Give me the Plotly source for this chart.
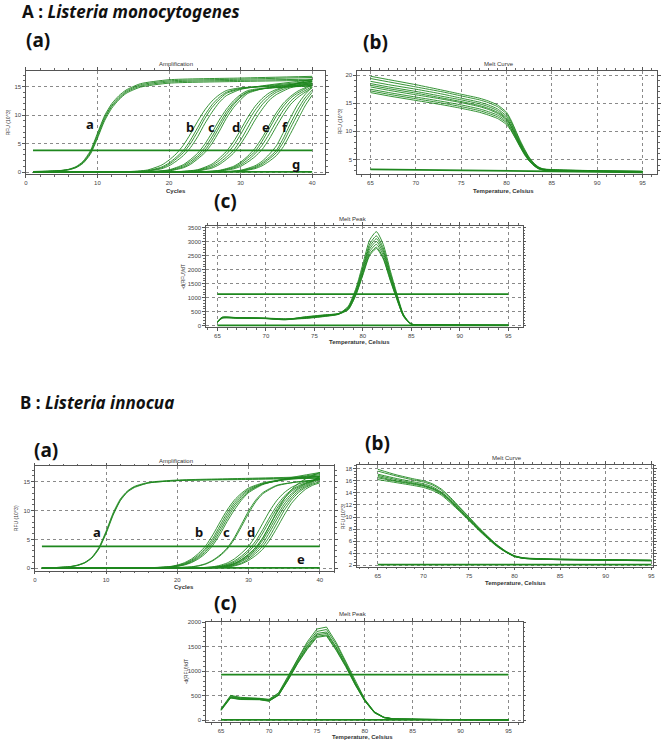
import plotly.graph_objects as go

W, H = 669, 744
GREEN = "rgb(30,135,30)"

# ---------------- A : Listeria monocytogenes ----------------
# amplification (RFU x 10^3 vs cycle)
amp_a_xa = [1, 3, 5, 6, 7, 8, 9, 10, 11, 12, 13, 14, 16, 20, 30, 40]
amp_a_a = [
    [0.10, 0.15, 0.30, 0.50, 0.95, 1.9, 3.7, 6.8, 9.9, 12.0, 13.4, 14.4, 15.5, 16.2, 16.5, 16.8],
    [0.10, 0.15, 0.28, 0.46, 0.88, 1.75, 3.5, 6.5, 9.6, 11.7, 13.1, 14.2, 15.3, 16.0, 16.3, 16.6],
    [0.08, 0.12, 0.26, 0.43, 0.82, 1.65, 3.3, 6.2, 9.3, 11.5, 12.9, 14.0, 15.1, 15.8, 16.1, 16.3],
    [0.08, 0.12, 0.24, 0.40, 0.76, 1.55, 3.1, 5.9, 9.0, 11.2, 12.7, 13.8, 14.9, 15.6, 15.9, 16.1],
]
amp_a_xb = [1, 14, 17, 19, 20, 21, 22, 23, 24, 25, 26, 27, 28, 30, 34, 40]
amp_a_b = [
    [0.05, 0.06, 0.37, 1.25, 2.1, 3.2, 4.7, 6.7, 8.9, 10.9, 12.45, 13.55, 14.3, 14.8, 15.0, 15.3],
    [0.05, 0.05, 0.25, 0.9, 1.6, 2.6, 3.8, 5.6, 7.8, 10.0, 11.8, 13.1, 14.0, 14.7, 15.1, 15.6],
    [0.04, 0.05, 0.2, 0.75, 1.35, 2.3, 3.4, 5.0, 7.1, 9.4, 11.3, 12.7, 13.8, 14.6, 15.2, 15.9],
    [0.04, 0.04, 0.16, 0.6, 1.1, 1.9, 2.9, 4.3, 6.2, 8.5, 10.5, 12.2, 13.4, 14.5, 15.3, 16.2],
]
amp_a_xc = [1, 17, 20, 22, 23, 24, 25, 26, 27, 28, 29, 30, 31, 33, 36, 40]
amp_a_c = [
    [0.05, 0.06, 0.4, 1.3, 2.2, 3.3, 4.9, 6.9, 9.1, 11.0, 12.5, 13.6, 14.3, 14.7, 14.9, 15.1],
    [0.05, 0.05, 0.33, 1.1, 1.9, 2.9, 4.3, 6.2, 8.4, 10.5, 12.1, 13.3, 14.1, 14.6, 14.9, 15.2],
    [0.04, 0.05, 0.25, 0.9, 1.6, 2.6, 3.8, 5.6, 7.8, 10.0, 11.8, 13.1, 14.0, 14.6, 15.0, 15.5],
    [0.04, 0.04, 0.2, 0.75, 1.35, 2.3, 3.4, 5.0, 7.1, 9.4, 11.3, 12.7, 13.8, 14.6, 15.2, 15.9],
]
amp_a_xd = [1, 21, 24, 26, 27, 28, 29, 30, 31, 32, 33, 34, 35, 37, 40]
amp_a_d = [
    [0.05, 0.07, 0.42, 1.4, 2.4, 3.6, 5.3, 7.4, 9.6, 11.5, 12.9, 13.9, 14.5, 15.3, 16.3],
    [0.05, 0.06, 0.34, 1.15, 2.0, 3.1, 4.6, 6.6, 8.8, 10.8, 12.4, 13.5, 14.3, 15.2, 16.0],
    [0.04, 0.05, 0.25, 0.9, 1.6, 2.6, 3.8, 5.6, 7.8, 10.0, 11.8, 13.1, 14.0, 15.0, 15.8],
    [0.04, 0.04, 0.2, 0.7, 1.3, 2.2, 3.3, 4.9, 6.9, 9.1, 11.0, 12.6, 13.6, 14.8, 15.5],
]
amp_a_xe = [1, 24, 27, 29, 30, 31, 32, 33, 34, 35, 36, 37, 38, 39, 40]
amp_a_e = [
    [0.04, 0.05, 0.3, 1.0, 1.75, 2.8, 4.15, 6.0, 8.2, 10.4, 12.1, 13.3, 14.2, 14.8, 15.6],
    [0.04, 0.05, 0.24, 0.85, 1.5, 2.5, 3.6, 5.4, 7.6, 9.8, 11.6, 13.0, 13.9, 14.6, 15.3],
    [0.03, 0.04, 0.2, 0.7, 1.25, 2.1, 3.2, 4.7, 6.7, 8.9, 10.9, 12.45, 13.55, 14.3, 15.0],
    [0.03, 0.04, 0.16, 0.55, 1.0, 1.75, 2.7, 3.95, 5.8, 8.0, 10.1, 11.9, 13.1, 14.0, 14.8],
]
amp_a_xf = [1, 27, 30, 32, 33, 34, 35, 36, 37, 38, 39, 40]
amp_a_f = [
    [0.04, 0.05, 0.32, 1.1, 1.9, 3.1, 4.6, 7.0, 9.6, 11.9, 13.6, 14.9],
    [0.04, 0.05, 0.25, 0.9, 1.6, 2.6, 3.8, 6.0, 8.6, 11.0, 13.0, 14.4],
    [0.03, 0.04, 0.2, 0.75, 1.35, 2.3, 3.4, 5.3, 7.8, 10.2, 12.4, 14.0],
    [0.03, 0.04, 0.17, 0.6, 1.1, 1.9, 2.9, 4.5, 6.8, 9.2, 11.6, 13.5],
]
amp_a_flat_x = [1, 40]
amp_a_flat_y = [0.05, 0.05]
amp_a_thr_y = [3.8, 3.8]
amp_a_labels = ["a", "b", "c", "d", "e", "f", "g"]
amp_a_label_x = [8.9, 23.0, 26.0, 29.4, 33.6, 36.2, 37.8]
amp_a_label_y = [8.4, 7.9, 7.9, 7.9, 7.9, 7.9, 1.5]

# melt curve (RFU x 10^3 vs temperature)
mc_a_x = [65, 67, 70, 73, 75, 77, 78, 79, 79.5, 80, 80.5, 81, 81.5, 82, 82.5, 83, 83.5, 84, 84.5, 86, 90, 95]
mc_a = [
    [19.8, 19.2, 18.3, 17.3, 16.6, 15.9, 15.4, 14.7, 14.1, 13.4, 12.0, 10.2, 8.4, 6.8, 5.4, 4.4, 3.7, 3.35, 3.25, 3.15, 3.0, 2.9],
    [19.4, 18.8, 17.9, 17.0, 16.3, 15.6, 15.1, 14.4, 13.8, 13.1, 11.7, 10.0, 8.2, 6.6, 5.3, 4.3, 3.65, 3.3, 3.2, 3.1, 3.0, 2.9],
    [18.9, 18.3, 17.5, 16.6, 15.9, 15.2, 14.7, 14.0, 13.4, 12.7, 11.4, 9.7, 8.0, 6.5, 5.2, 4.25, 3.6, 3.3, 3.2, 3.1, 2.95, 2.85],
    [18.5, 17.9, 17.1, 16.2, 15.6, 14.9, 14.4, 13.7, 13.1, 12.4, 11.1, 9.5, 7.8, 6.3, 5.1, 4.2, 3.55, 3.25, 3.15, 3.05, 2.95, 2.85],
    [18.2, 17.6, 16.8, 15.9, 15.3, 14.6, 14.1, 13.4, 12.9, 12.2, 10.9, 9.3, 7.7, 6.2, 5.0, 4.1, 3.5, 3.2, 3.1, 3.0, 2.9, 2.8],
    [17.9, 17.3, 16.5, 15.7, 15.1, 14.4, 13.9, 13.2, 12.7, 12.0, 10.8, 9.2, 7.6, 6.1, 4.9, 4.05, 3.45, 3.2, 3.1, 3.0, 2.9, 2.8],
    [17.5, 16.9, 16.1, 15.3, 14.7, 14.0, 13.5, 12.9, 12.4, 11.7, 10.5, 9.0, 7.4, 6.0, 4.85, 4.0, 3.4, 3.15, 3.05, 2.95, 2.85, 2.8],
    [17.2, 16.6, 15.8, 15.0, 14.4, 13.7, 13.2, 12.6, 12.1, 11.5, 10.3, 8.8, 7.3, 5.9, 4.8, 3.95, 3.4, 3.15, 3.05, 2.95, 2.85, 2.75],
    [16.9, 16.3, 15.5, 14.7, 14.1, 13.4, 12.9, 12.3, 11.8, 11.2, 10.1, 8.7, 7.2, 5.8, 4.7, 3.9, 3.35, 3.1, 3.0, 2.9, 2.85, 2.75],
]
mc_a_flat_x = [65, 75, 85, 95]
mc_a_flat_y = [3.25, 3.1, 2.85, 2.7]

# melt peak (-dRFU/dT)
mp_a_x = [65, 65.5, 67, 70, 72, 74, 76, 77.5, 78.5, 79.3, 80, 80.7, 81.4, 82.1, 82.8, 83.5, 84.2, 85, 88, 95]
mp_a = [
    [140, 290, 285, 265, 230, 300, 370, 430, 700, 1350, 2200, 3050, 3350, 2900, 2000, 1150, 400, 70, 30, 20],
    [150, 300, 290, 270, 240, 280, 350, 420, 670, 1290, 2100, 2910, 3200, 2770, 1910, 1100, 380, 65, 30, 20],
    [130, 280, 280, 260, 220, 320, 390, 440, 650, 1250, 2035, 2820, 3100, 2680, 1850, 1065, 370, 65, 30, 20],
    [160, 310, 295, 275, 250, 260, 330, 410, 630, 1210, 1970, 2730, 3000, 2600, 1790, 1030, 360, 60, 30, 20],
    [120, 270, 275, 255, 215, 290, 360, 425, 610, 1170, 1905, 2640, 2900, 2510, 1730, 995, 350, 60, 30, 20],
    [150, 295, 285, 260, 235, 310, 380, 435, 590, 1130, 1840, 2550, 2800, 2425, 1670, 960, 335, 55, 30, 20],
    [140, 285, 280, 268, 225, 270, 340, 415, 575, 1110, 1805, 2500, 2750, 2380, 1640, 945, 330, 55, 30, 20],
]
mp_a_line_x = [65, 95]
mp_a_zero_y = [15, 15]
mp_a_thr_y = [1130, 1130]

# ---------------- B : Listeria innocua ----------------
amp_b_xa = [1, 3, 5, 6, 7, 8, 9, 10, 11, 12, 13, 14, 16, 20, 30, 40]
amp_b_a = [
    [0.08, 0.12, 0.30, 0.55, 1.0, 1.9, 3.6, 6.4, 9.6, 12.0, 13.4, 14.2, 14.9, 15.3, 15.6, 15.9],
    [0.08, 0.12, 0.28, 0.50, 0.95, 1.8, 3.45, 6.2, 9.4, 11.8, 13.3, 14.1, 14.8, 15.2, 15.5, 15.7],
    [0.07, 0.11, 0.26, 0.48, 0.90, 1.75, 3.35, 6.0, 9.2, 11.7, 13.2, 14.0, 14.8, 15.2, 15.4, 15.6],
]
amp_b_xb = [1, 16, 19, 20, 21, 22, 23, 24, 25, 26, 27, 28, 29, 30, 32, 35, 40]
amp_b_b = [
    [0.05, 0.08, 0.3, 0.55, 0.95, 1.6, 2.6, 3.9, 5.8, 8.0, 10.1, 11.8, 13.0, 13.9, 14.8, 15.4, 16.0],
    [0.05, 0.07, 0.25, 0.47, 0.82, 1.4, 2.3, 3.5, 5.2, 7.4, 9.6, 11.4, 12.7, 13.7, 14.7, 15.4, 16.2],
    [0.05, 0.07, 0.22, 0.40, 0.72, 1.25, 2.05, 3.2, 4.8, 6.9, 9.1, 11.0, 12.4, 13.5, 14.6, 15.3, 15.9],
    [0.04, 0.06, 0.19, 0.35, 0.63, 1.1, 1.85, 2.9, 4.4, 6.4, 8.6, 10.6, 12.1, 13.3, 14.6, 15.4, 16.4],
    [0.04, 0.06, 0.17, 0.31, 0.56, 0.98, 1.65, 2.6, 4.0, 5.9, 8.1, 10.1, 11.8, 13.1, 14.5, 15.5, 16.6],
]
amp_b_xc = [1, 19, 22, 23, 24, 25, 26, 27, 28, 29, 30, 31, 32, 34, 37, 40]
amp_b_c = [
    [0.05, 0.07, 0.25, 0.45, 0.8, 1.4, 2.3, 3.5, 5.3, 7.6, 9.9, 11.8, 13.1, 14.4, 15.0, 15.3],
    [0.05, 0.07, 0.22, 0.40, 0.72, 1.3, 2.15, 3.3, 5.0, 7.2, 9.5, 11.5, 12.9, 14.3, 15.0, 15.4],
]
amp_b_xd = [1, 23, 24, 25, 26, 27, 28, 29, 30, 31, 32, 33, 34, 35, 36, 37, 38, 39, 40]
amp_b_d = [
    [0.03, 0.08, 0.15, 0.25, 0.5, 0.9, 1.6, 2.6, 3.8, 5.6, 7.8, 10.0, 11.8, 13.1, 14.0, 14.6, 15.0, 15.3, 15.5],
    [0.03, 0.06, 0.12, 0.2, 0.37, 0.7, 1.25, 2.1, 3.2, 4.7, 6.7, 8.9, 10.9, 12.45, 13.55, 14.3, 14.8, 15.2, 15.6],
    [0.03, 0.05, 0.1, 0.17, 0.3, 0.58, 1.05, 1.8, 2.85, 4.2, 6.1, 8.3, 10.4, 12.1, 13.3, 14.1, 14.7, 15.2, 15.9],
    [0.03, 0.05, 0.08, 0.14, 0.24, 0.47, 0.85, 1.5, 2.45, 3.6, 5.3, 7.5, 9.7, 11.6, 12.9, 13.9, 14.6, 15.1, 16.1],
    [0.03, 0.04, 0.07, 0.12, 0.2, 0.38, 0.72, 1.3, 2.15, 3.25, 4.85, 6.9, 9.1, 11.1, 12.6, 13.7, 14.4, 15.0, 15.8],
    [0.02, 0.04, 0.06, 0.1, 0.17, 0.32, 0.62, 1.15, 1.9, 2.95, 4.3, 6.3, 8.5, 10.6, 12.2, 13.4, 14.2, 14.8, 15.4],
    [0.02, 0.03, 0.05, 0.08, 0.15, 0.25, 0.5, 0.9, 1.6, 2.6, 3.8, 5.6, 7.8, 10.0, 11.8, 13.1, 14.0, 14.6, 15.0],
    [0.02, 0.03, 0.04, 0.07, 0.12, 0.21, 0.4, 0.75, 1.35, 2.2, 3.3, 4.95, 7.0, 9.2, 11.2, 12.6, 13.7, 14.4, 14.8],
    [0.03, 0.05, 0.08, 0.13, 0.23, 0.44, 0.8, 1.45, 2.35, 3.5, 5.2, 7.5, 9.9, 12.0, 13.6, 14.7, 15.5, 16.1, 16.6],
]
amp_b_flat_x = [1, 40]
amp_b_flat_y = [0.05, 0.05]
amp_b_thr_y = [3.8, 3.8]
amp_b_labels = ["a", "b", "c", "d", "e"]
amp_b_label_x = [8.8, 23.1, 26.9, 30.3, 37.3]
amp_b_label_y = [6.2, 6.2, 6.2, 6.2, 1.6]

mc_b_x = [65, 67, 69, 70, 71, 72, 73, 74, 75, 76, 77, 78, 79, 80, 81, 83, 87, 95]
mc_b = [
    [17.9, 17.0, 16.3, 16.0, 15.5, 14.6, 13.2, 11.6, 10.0, 8.4, 6.9, 5.5, 4.4, 3.6, 3.25, 3.1, 3.0, 2.85],
    [17.6, 16.8, 16.1, 15.8, 15.3, 14.4, 13.0, 11.5, 9.9, 8.3, 6.8, 5.45, 4.35, 3.55, 3.2, 3.05, 2.95, 2.85],
    [17.1, 16.4, 15.8, 15.5, 15.0, 14.1, 12.8, 11.3, 9.75, 8.2, 6.75, 5.4, 4.3, 3.5, 3.2, 3.05, 2.95, 2.8],
    [16.9, 16.2, 15.6, 15.3, 14.8, 14.0, 12.7, 11.2, 9.65, 8.1, 6.7, 5.35, 4.3, 3.5, 3.2, 3.0, 2.9, 2.8],
    [16.7, 16.0, 15.5, 15.2, 14.7, 13.9, 12.6, 11.1, 9.6, 8.05, 6.65, 5.3, 4.25, 3.5, 3.15, 3.0, 2.9, 2.8],
    [16.5, 15.9, 15.4, 15.1, 14.6, 13.8, 12.5, 11.0, 9.5, 8.0, 6.6, 5.3, 4.25, 3.45, 3.15, 3.0, 2.9, 2.75],
    [16.2, 15.7, 15.2, 14.9, 14.4, 13.6, 12.3, 10.9, 9.4, 7.9, 6.5, 5.2, 4.2, 3.45, 3.15, 3.0, 2.9, 2.75],
]
mc_b_flat_x = [65, 95]
mc_b_flat_y = [2.1, 2.1]

mp_b_x = [65, 66, 67, 68, 69, 70, 71, 72, 73, 74, 75, 76, 77, 78, 79, 80, 81, 82, 83, 86, 90, 95]
mp_b = [
    [240, 510, 470, 460, 455, 430, 560, 900, 1270, 1600, 1860, 1900, 1590, 1210, 800, 430, 175, 65, 32, 22, 15, 10],
    [225, 495, 460, 450, 450, 420, 550, 880, 1240, 1560, 1810, 1850, 1550, 1180, 780, 420, 170, 62, 30, 20, 15, 10],
    [210, 480, 450, 440, 440, 410, 530, 860, 1210, 1520, 1770, 1800, 1500, 1150, 760, 410, 165, 60, 30, 20, 14, 10],
    [220, 470, 440, 430, 430, 400, 520, 840, 1190, 1500, 1740, 1770, 1480, 1130, 745, 400, 160, 58, 28, 20, 14, 10],
    [200, 460, 430, 425, 425, 395, 515, 830, 1170, 1470, 1710, 1740, 1450, 1110, 730, 395, 158, 56, 28, 19, 13, 9],
    [230, 455, 425, 420, 420, 390, 510, 820, 1160, 1450, 1690, 1720, 1430, 1095, 720, 390, 155, 55, 27, 19, 13, 9],
]
mp_b_line_x = [65, 95]
mp_b_zero_y = [10, 10]
mp_b_thr_y = [930, 930]


def dom(p0, p1, q0, q1):
    return [p0 / W, p1 / W], [1 - q1 / H, 1 - q0 / H]


def axis(domain, rng, dtick, mdtick, anchor):
    return dict(domain=domain, range=rng, dtick=dtick, tick0=0, anchor=anchor,
                showgrid=True, gridcolor="#8a8a8a", griddash="dot", gridwidth=0.7,
                showline=True, linecolor="#555", linewidth=1, mirror="allticks",
                ticks="outside", ticklen=2.5, tickcolor="#555", tickwidth=0.8,
                tickfont=dict(size=6, color="#444", family="Liberation Sans"),
                minor=dict(ticks="outside", ticklen=1.5, dtick=mdtick, tickcolor="#666", showgrid=False),
                zeroline=False, fixedrange=True)


fig = go.Figure()


def lines(ax, xs, ys, width=0.9, shape="spline"):
    fig.add_trace(go.Scatter(x=xs, y=ys, mode="lines", xaxis="x" + ax, yaxis="y" + ax,
                             line=dict(color=GREEN, width=width, shape=shape, smoothing=0.6),
                             showlegend=False, hoverinfo="skip"))


# A amplification on the first axis pair
for xs, group in [(amp_a_xa, amp_a_a), (amp_a_xb, amp_a_b), (amp_a_xc, amp_a_c),
                  (amp_a_xd, amp_a_d), (amp_a_xe, amp_a_e), (amp_a_xf, amp_a_f)]:
    for ys in group:
        lines("", xs, ys)
lines("", amp_a_flat_x, amp_a_flat_y, 1.7, "linear")
lines("", amp_a_flat_x, amp_a_thr_y, 1.7, "linear")

for ys in mc_a:
    lines("2", mc_a_x, ys)
lines("2", mc_a_flat_x, mc_a_flat_y, 1.7, "linear")

for ys in mp_a:
    lines("3", mp_a_x, ys)
lines("3", mp_a_line_x, mp_a_zero_y, 1.7, "linear")
lines("3", mp_a_line_x, mp_a_thr_y, 1.7, "linear")

for xs, group in [(amp_b_xa, amp_b_a), (amp_b_xb, amp_b_b), (amp_b_xc, amp_b_c), (amp_b_xd, amp_b_d)]:
    for ys in group:
        lines("4", xs, ys)
lines("4", amp_b_flat_x, amp_b_flat_y, 1.7, "linear")
lines("4", amp_b_flat_x, amp_b_thr_y, 1.7, "linear")

for ys in mc_b:
    lines("5", mc_b_x, ys)
lines("5", mc_b_flat_x, mc_b_flat_y, 1.7, "linear")

for ys in mp_b:
    lines("6", mp_b_x, ys, 0.9, "linear")
lines("6", mp_b_line_x, mp_b_zero_y, 1.7, "linear")
lines("6", mp_b_line_x, mp_b_thr_y, 1.7, "linear")

# panel boxes in pixels: (left, right, top, bottom)
boxes = {
    "": (24, 325, 69, 173),
    "2": (357, 659, 69, 173),
    "3": (205, 524, 225, 327),
    "4": (33, 334, 467, 572),
    "5": (357, 655, 465, 568),
    "6": (205, 524, 623, 724),
}
ranges = {
    "": ([0, 41.8], [-0.35, 17.8], 10, 2, 5, 1),
    "2": ([63.5, 96.6], [2.4, 20.8], 5, 1, 5, 1),
    "3": ([63.8, 96.5], [-50, 3560], 5, 1, 500, 100),
    "4": ([0, 42], [-0.47, 17.65], 10, 2, 5, 1),
    "5": ([62.7, 95.2], [1.73, 18.7], 5, 1, 2, 0.5),
    "6": ([63.4, 96.5], [-35, 2010], 5, 1, 500, 100),
}
layout = {}
for k, (l, r, t, b) in boxes.items():
    xd, yd = dom(l, r, t, b)
    xr, yr, dx, mdx, dy, mdy = ranges[k]
    layout["xaxis" + k] = axis(xd, xr, dx, mdx, "y" + k)
    layout["yaxis" + k] = axis(yd, yr, dy, mdy, "x" + k)


def note(text, px, py, size, angle=0, xanchor="center", family="Liberation Sans", color="#333"):
    return dict(text=text, x=px / W, y=1 - py / H, xref="paper", yref="paper", showarrow=False,
                font=dict(size=size, family=family, color=color), xanchor=xanchor,
                yanchor="middle", textangle=angle)


ann = [
    note("<b>A : <i>Listeria monocytogenes</i></b>", 18, 10, 17, xanchor="left", family="Noto Sans", color="#111"),
    note("<b>B : <i>Listeria innocua</i></b>", 16, 403, 17, xanchor="left", family="Noto Sans", color="#111"),
    note("<b>(a)</b>", 22, 38, 19, xanchor="left", family="Noto Sans", color="#111"),
    note("<b>(b)</b>", 361, 40, 19, xanchor="left", family="Noto Sans", color="#111"),
    note("<b>(c)</b>", 211, 200, 19, xanchor="left", family="Noto Sans", color="#111"),
    note("<b>(a)</b>", 30, 450, 19, xanchor="left", family="Noto Sans", color="#111"),
    note("<b>(b)</b>", 363, 443, 19, xanchor="left", family="Noto Sans", color="#111"),
    note("<b>(c)</b>", 211, 604, 19, xanchor="left", family="Noto Sans", color="#111"),
    note("Amplification", 175, 62, 6),
    note("Melt Curve", 500, 62, 6),
    note("Melt Peak", 353, 218, 6),
    note("Amplification", 175, 461, 6),
    note("Melt Curve", 508, 458, 6),
    note("Melt Peak", 353, 615, 6),
    note("<b>Cycles</b>", 175, 190, 6),
    note("<b>Temperature, Celsius</b>", 505, 190, 6),
    note("<b>Temperature, Celsius</b>", 360, 342, 6),
    note("<b>Cycles</b>", 183, 588, 6),
    note("<b>Temperature, Celsius</b>", 517, 584, 6),
    note("<b>Temperature, Celsius</b>", 363, 739, 6),
    note("RFU (10^3)", 6, 121, 5, angle=-90),
    note("RFU (10^3)", 340, 120, 5, angle=-90),
    note("-d(RFU)/dT", 182, 276, 5, angle=-90),
    note("RFU (10^3)", 14, 519, 5, angle=-90),
    note("RFU (10^3)", 343, 517, 5, angle=-90),
    note("-d(RFU)/dT", 185, 673, 5, angle=-90),
]
for t, x, y in zip(amp_a_labels, amp_a_label_x, amp_a_label_y):
    ann.append(dict(text="<b>" + t + "</b>", x=x, y=y, xref="x", yref="y", showarrow=False,
                    font=dict(size=13, family="Noto Sans", color="#111")))
for t, x, y in zip(amp_b_labels, amp_b_label_x, amp_b_label_y):
    ann.append(dict(text="<b>" + t + "</b>", x=x, y=y, xref="x4", yref="y4", showarrow=False,
                    font=dict(size=13, family="Noto Sans", color="#111")))

fig.update_layout(width=W, height=H, margin=dict(l=0, r=0, t=0, b=0),
                  paper_bgcolor="white", plot_bgcolor="white", annotations=ann, **layout)

# drop the default page margin so the figure sits at the window's top-left corner
fig.write_html("out.html", config={"displayModeBar": False},
               post_script="document.body.style.margin='0';")
